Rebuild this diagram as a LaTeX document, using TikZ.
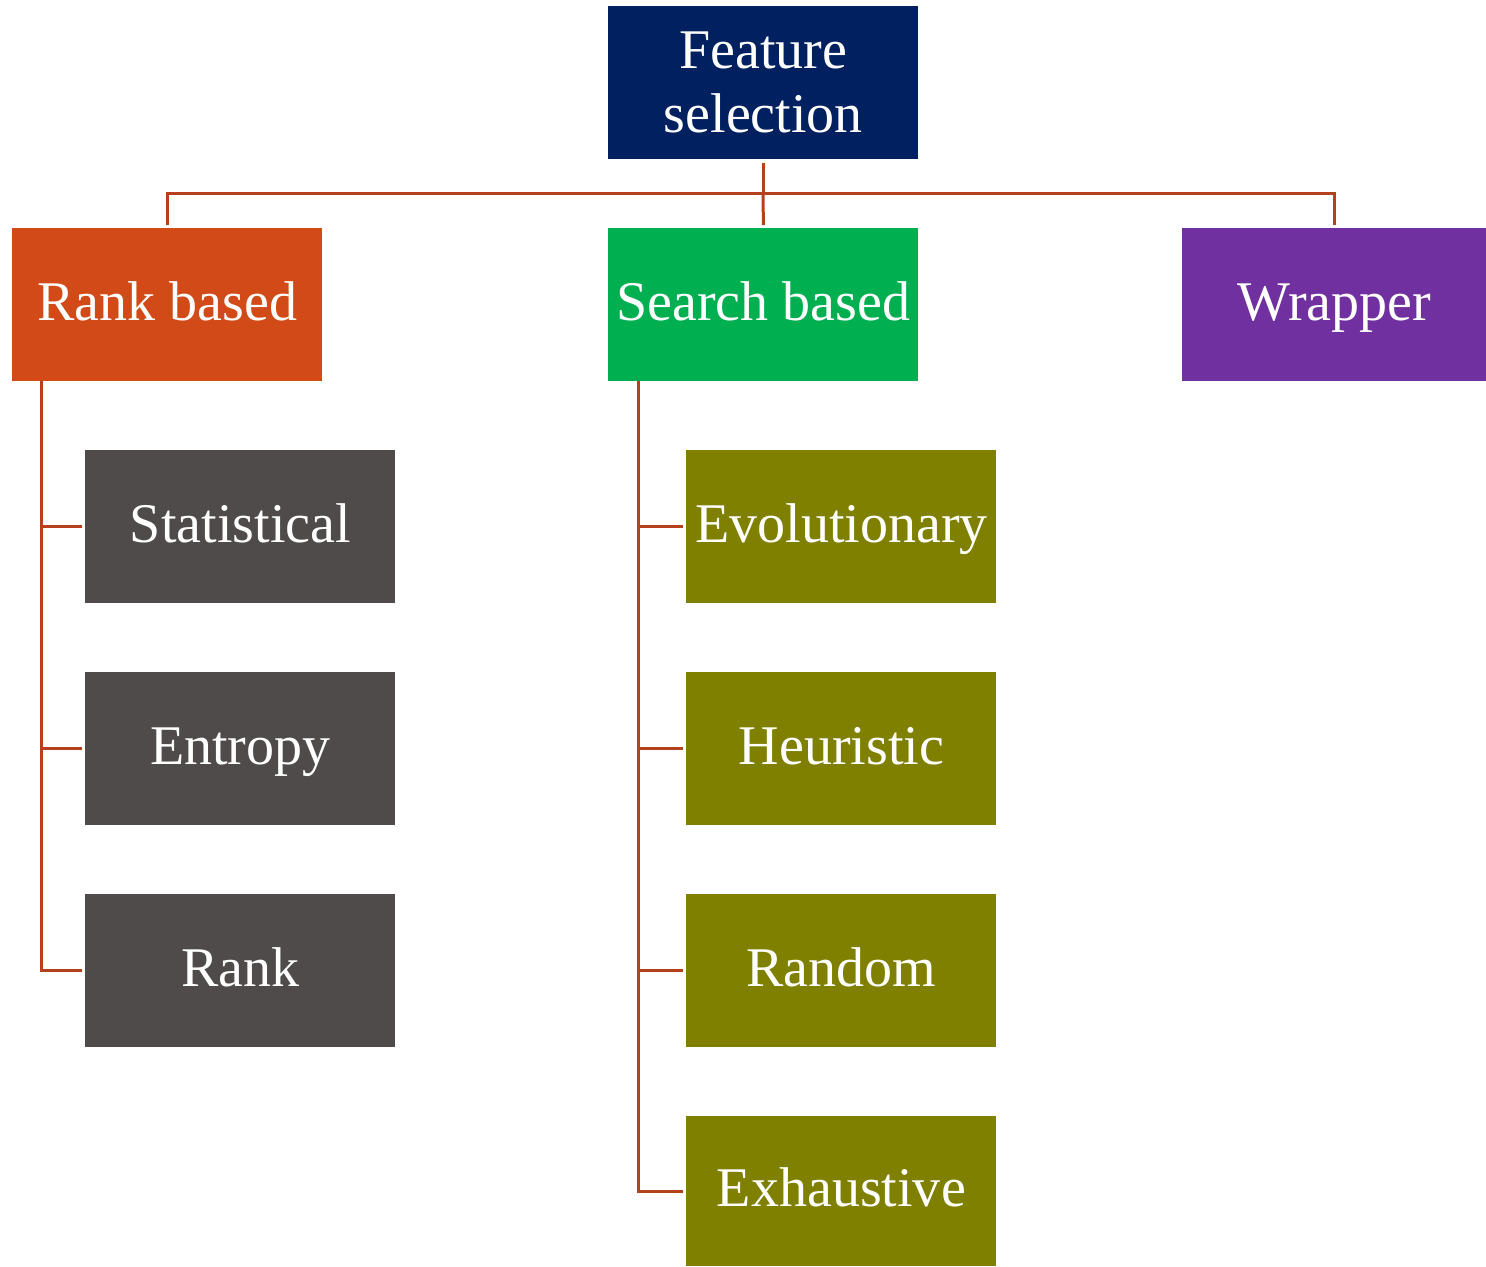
\documentclass[tikz,border=0pt]{standalone}
\usepackage{fontspec}
\setmainfont{Liberation Serif}
\begin{document}
\begin{tikzpicture}[x=0.5pt,y=-0.5pt,
  box/.style={minimum width=155pt,minimum height=76.5pt,inner sep=0pt,
    text=white,font=\fontsize{28}{32}\selectfont,align=center,anchor=north west},
  oneline/.style={text height=20pt,text depth=4.5pt},
  link/.style={draw=linkc,line width=1.5pt}]
\definecolor{navy}{HTML}{002060}
\definecolor{rankc}{HTML}{D24A18}
\definecolor{searchc}{HTML}{00B050}
\definecolor{wrapc}{HTML}{7030A0}
\definecolor{grayc}{HTML}{504B4B}
\definecolor{olivec}{HTML}{808000}
\definecolor{linkc}{HTML}{B5401C}
\useasboundingbox (0,0) rectangle (1486,1266);

% top level
\node[box,fill=navy] (fs) at (608,6) {Feature\\selection};
\node[box,oneline,fill=rankc] (rb) at (12,228) {Rank based};
\node[box,oneline,fill=searchc] (sb) at (608,228) {Search based};
\node[box,oneline,fill=wrapc,minimum width=152pt] (wr) at (1182,228) {Wrapper};

% rank based methods
\node[box,oneline,fill=grayc] (st) at (85,450) {Statistical};
\node[box,oneline,fill=grayc] (en) at (85,672) {Entropy};
\node[box,oneline,fill=grayc] (rk) at (85,894) {Rank};

% search based methods
\node[box,oneline,fill=olivec] (ev) at (686,450) {Evolutionary};
\node[box,oneline,fill=olivec] (he) at (686,672) {Heuristic};
\node[box,oneline,fill=olivec] (ra) at (686,894) {Random};
\node[box,oneline,fill=olivec,minimum height=75pt] (ex) at (686,1116) {Exhaustive};

% tree connectors from the root
\coordinate (bus) at (763,193);
\draw[link] ([yshift=-1.5pt]fs.south) -- (fs.south |- bus);
\draw[link] ([yshift=1.5pt]rb.north) |- (bus) -| ([yshift=1.5pt]wr.north);
\draw[link] (bus) -- ([yshift=1.5pt]sb.north);

% rank based branch
\coordinate (rtop) at (41,381);
\draw[link] (rtop) |- ([xshift=-1.5pt]rk.west);
\draw[link] (rtop |- st.west) -- ([xshift=-1.5pt]st.west);
\draw[link] (rtop |- en.west) -- ([xshift=-1.5pt]en.west);

% search based branch
\coordinate (stop) at (638,381);
\draw[link] (stop) |- ([xshift=-1.5pt]ex.west);
\draw[link] (stop |- ev.west) -- ([xshift=-1.5pt]ev.west);
\draw[link] (stop |- he.west) -- ([xshift=-1.5pt]he.west);
\draw[link] (stop |- ra.west) -- ([xshift=-1.5pt]ra.west);
\end{tikzpicture}
\end{document}
